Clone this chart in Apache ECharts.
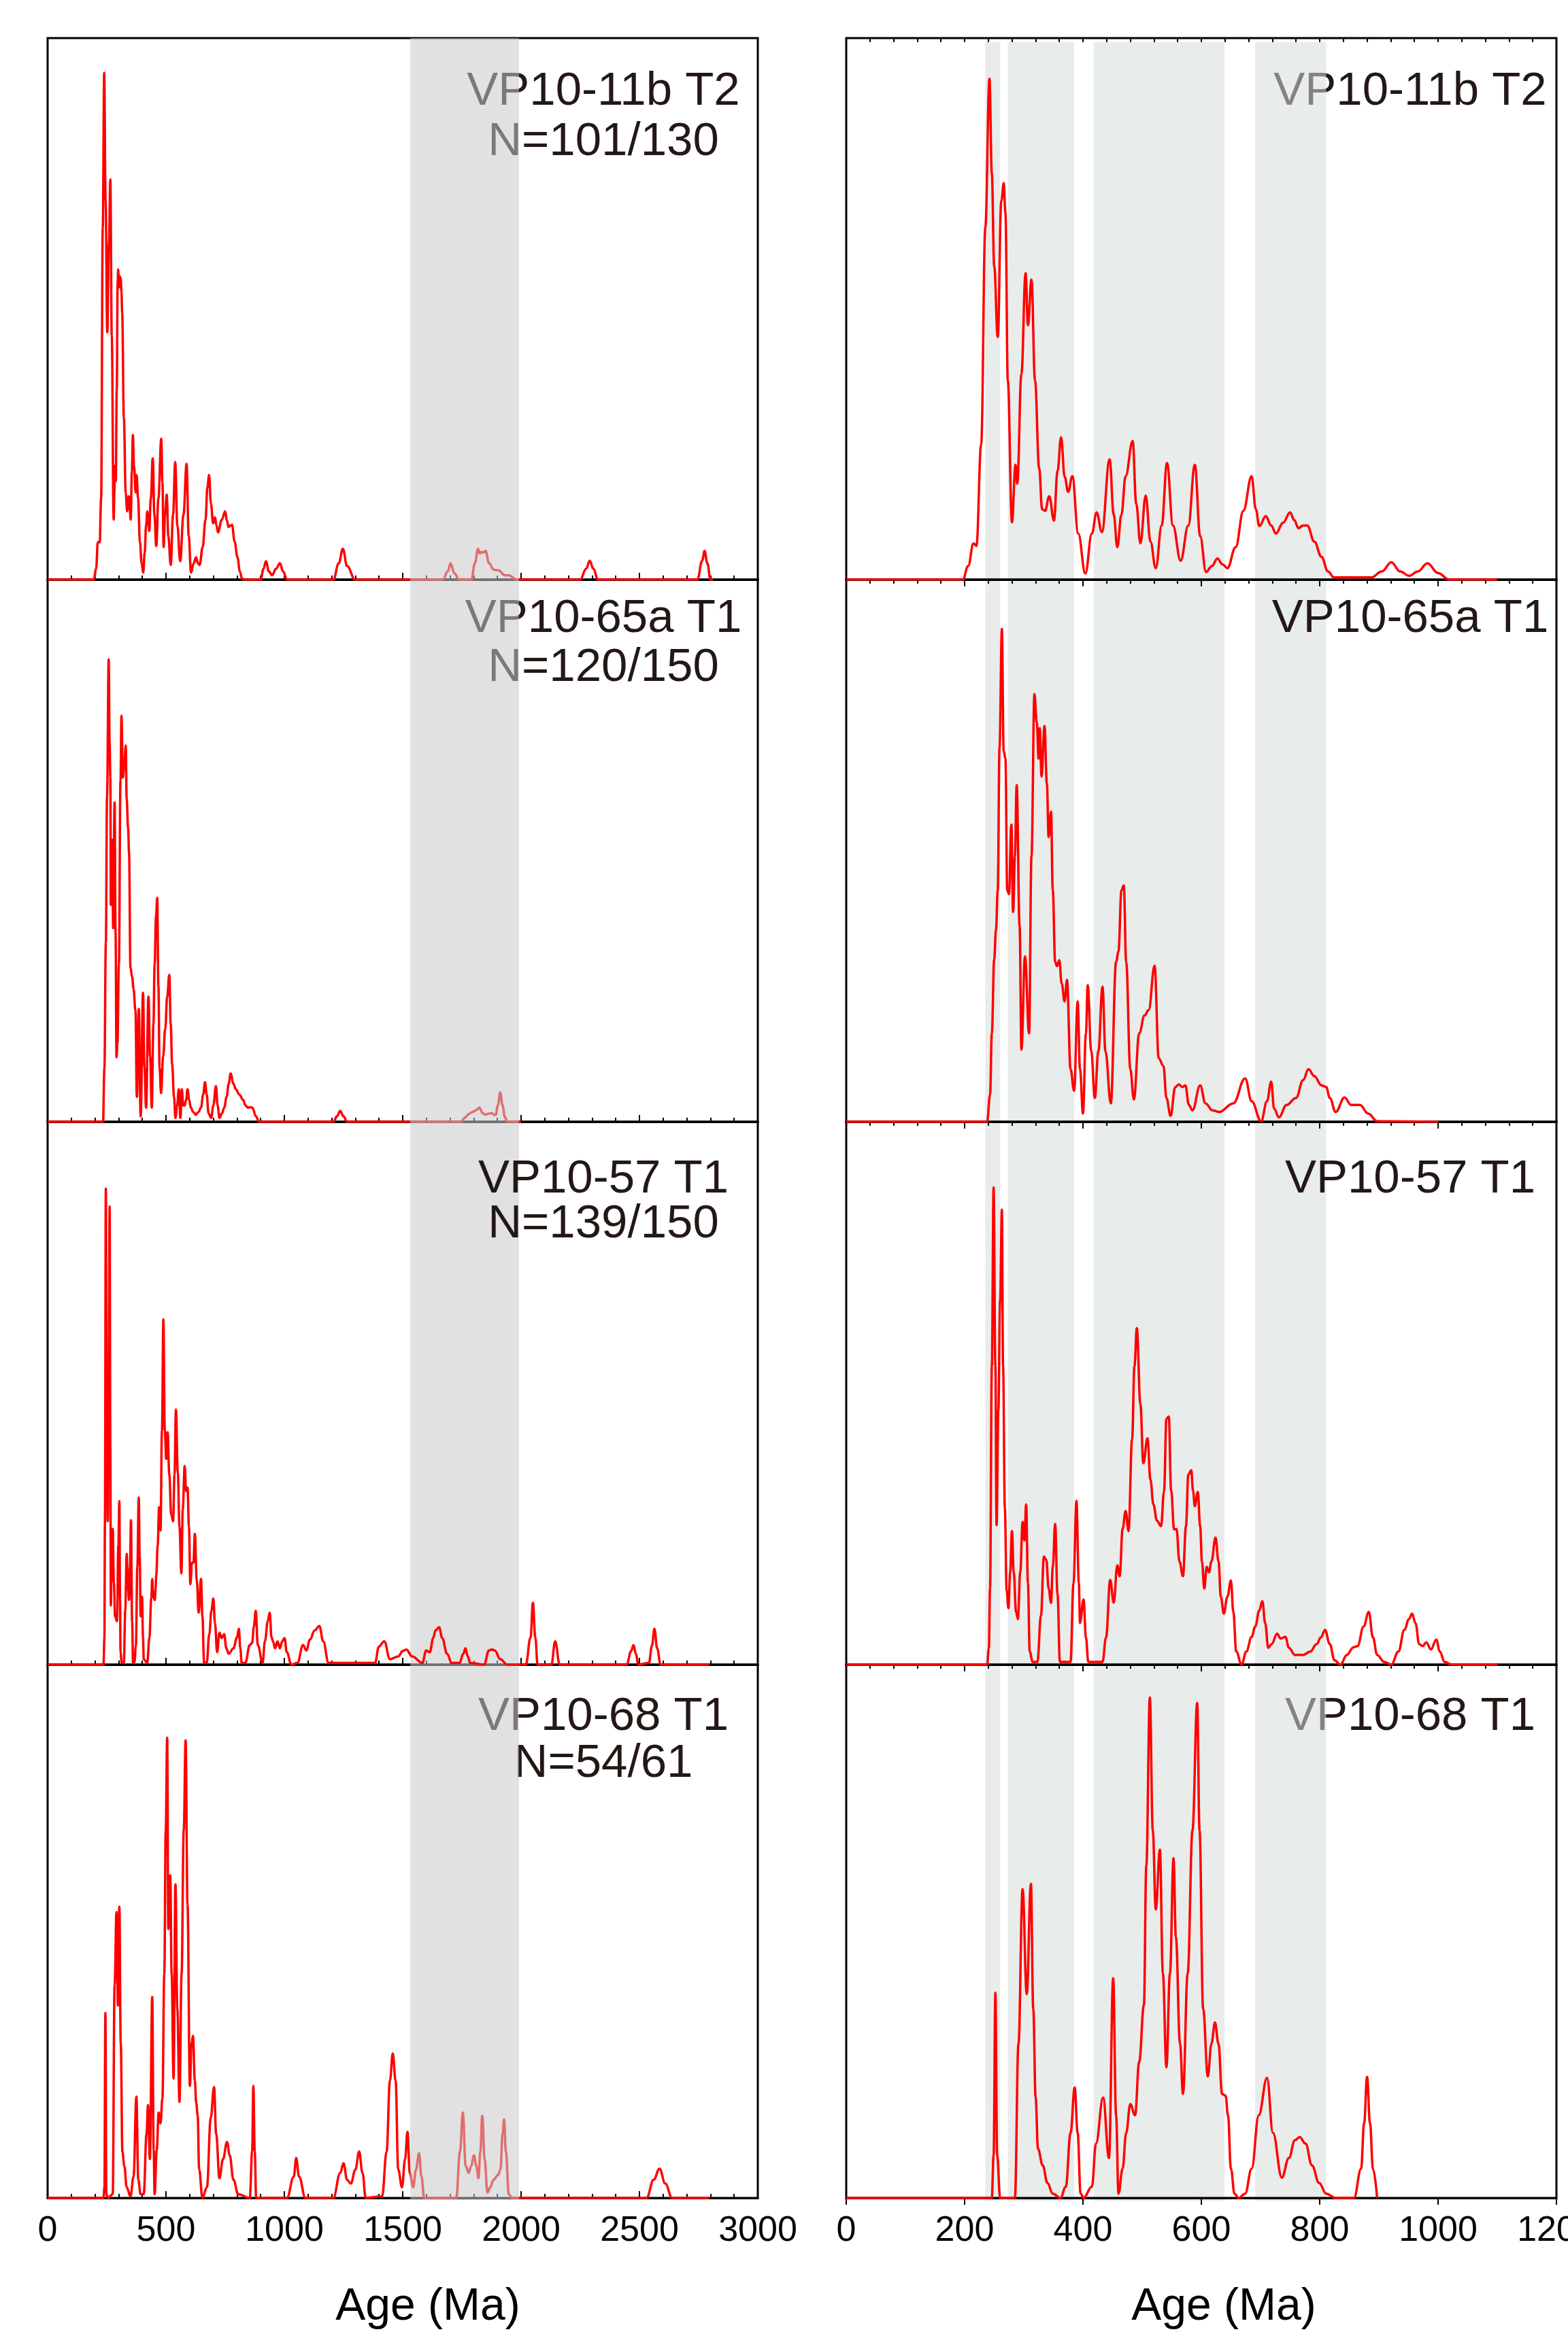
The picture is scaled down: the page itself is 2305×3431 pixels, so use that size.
<!DOCTYPE html>
<html><head><meta charset="utf-8">
<script src="https://cdn.jsdelivr.net/npm/echarts@6/dist/echarts.min.js"></script>
<style>html,body{margin:0;padding:0;background:#fff}#c{width:2305px;height:3431px}</style>
</head><body><div id="c"></div>
<script>
// ---------- data ----------
const leftTicks = [0, 500, 1000, 1500, 2000, 2500, 3000];
const rightTicks = [0, 200, 400, 600, 800, 1000, 1200];
const sampleNames = ['VP10-11b T2', 'VP10-65a T1', 'VP10-57 T1', 'VP10-68 T1'];
const sampleCounts = ['N=101/130', 'N=120/150', 'N=139/150', 'N=54/61'];
const leftBands = [[1532, 1991]];
const rightBands = [[235, 260], [273, 385], [418, 639], [691, 811]];

const kdeL1 = [[0,0],[195,0],[205,2],[212,6.9],[220,6.9],[226,15],[233,65],[239,93.6],[245,70],[252,45.7],[259,62],[265,73.9],[271,45],[279,11.1],[282,16],[284,21],[286,19],[288,18.2],[292,35],[296,55],[298,57.3],[302,54],[305,56],[309,55.6],[312,53],[315,49.2],[322,30],[330,16],[336,12.6],[340,14],[343,15.4],[347,13],[351,11.1],[356,20],[360,26.7],[365,21],[372,16.1],[376,19.3],[382,15],[390,7],[397,3],[404,1.3],[410,5],[416,10],[421,12.6],[425,10.5],[429,9],[436,15],[444,22.4],[451,12],[459,6.2],[468,15],[480,26],[485,18],[490,6],[496,12],[503,15.7],[510,8],[520,2.7],[530,12],[539,21.7],[548,10],[560,3.4],[574,12],[587,21.4],[596,8],[606,1.3],[617,3],[627,4.1],[635,3],[642,2.7],[655,6],[667,11.1],[675,17],[682,19.3],[690,14],[699,10.4],[707,11.5],[713,10],[720,8.7],[735,11],[750,12.6],[757,11],[764,9.7],[772,10],[779,10.1],[790,7],[802,4.1],[812,1.5],[821,0.2],[830,0],[900,0],[912,2],[922,3.4],[935,1.5],[948,0.8],[965,2],[981,3],[995,1.5],[1011,0],[1207,0],[1230,3],[1247,5.7],[1265,2.5],[1299,0],[1670,0],[1690,1.5],[1702,3],[1718,1.2],[1738,0],[1790,0],[1805,3],[1818,5.7],[1826,4.8],[1833,5.1],[1842,5],[1850,5.3],[1865,3],[1885,1.8],[1906,1.7],[1930,0.8],[1949,0.8],[1980,0],[2250,0],[2275,2],[2290,3.5],[2305,2],[2325,0],[2745,0],[2765,3.5],[2775,5.3],[2787,3],[2800,0],[2810,0]];

const kdeL2 = [[0,0],[234,0],[240,10],[246,33],[251,60],[258,85.3],[262,70],[265,63.5],[267,40],[270,45],[273,52],[277,35.7],[283,58.9],[287,35],[291,11.9],[295,14.5],[301,29],[308,63],[312,74.9],[318,63.5],[324,66],[330,69.4],[334,59.5],[340,54.2],[344,49.6],[350,28.4],[357,26.8],[363,24.5],[371,20.5],[377,4.6],[385,20.8],[393,1],[403,23.8],[409,10],[416,2.6],[426,23.1],[433,12],[440,2.6],[447,18],[452,29],[458,38],[463,41.3],[468,25],[473,10],[479,5.3],[488,12],[497,17.2],[505,23],[514,27.1],[520,18],[526,10.6],[534,4.6],[540,0.7],[547,3],[554,6],[561,0.7],[567,6],[573,3],[579,3],[585,4],[591,6],[598,4],[605,2.6],[615,1.8],[626,1.3],[637,1.8],[648,2.6],[657,5],[665,7.3],[672,5],[680,1.5],[691,0.7],[700,3],[711,6.6],[718,3],[726,0.7],[736,1.5],[746,2.6],[756,4.6],[765,7],[773,8.9],[785,7],[795,6],[810,5],[826,4],[836,3],[846,2.6],[856,2.7],[865,2.6],[880,1],[893,0],[1207,0],[1222,1],[1236,2],[1250,1],[1265,0],[1746,0],[1765,0.8],[1775,1.3],[1790,1.7],[1799,1.9],[1812,2.2],[1824,2.6],[1837,1.6],[1850,1.3],[1863,1.5],[1877,1.6],[1885,1.3],[1893,1.3],[1902,3],[1912,5.4],[1922,3],[1932,0.8],[1942,0],[2000,0]];

const kdeL3 = [[0,0],[236,0],[240,5],[242,26],[246,87.7],[250,40],[254,26.4],[258,55],[262,84.4],[265,40],[267,10.9],[271,20],[275,25],[280,15],[285,8.9],[293,8],[299,22],[303,30.1],[306,12],[308,2.3],[313,0.3],[322,0.3],[328,10],[334,20.4],[339,15],[344,11.9],[348,18],[352,26.6],[357,8],[361,0.3],[367,0.5],[373,3.6],[379,18],[385,30.8],[389,20],[393,8.9],[396,10],[399,12.5],[403,5],[406,1],[421,0.3],[430,5],[438,12.2],[442,15.8],[446,12.5],[453,11.9],[456,14],[459,16.5],[465,22],[471,29],[477,24.7],[483,43],[489,63.6],[495,43.2],[501,37.9],[507,42.8],[514,35],[522,27.7],[530,26.4],[536,35],[542,47],[550,35.3],[557,25.4],[565,16.8],[571,28.7],[579,36.6],[585,32],[591,32.6],[597,25.4],[603,14.8],[610,18.8],[616,18.8],[622,24.1],[630,15.5],[638,9.6],[648,15.8],[654,8.9],[661,0.3],[672,0.3],[683,5.6],[692,10],[700,12.2],[707,7.6],[716,2.3],[726,5.9],[735,4.9],[746,5.6],[755,3],[765,2],[785,3],[800,5],[808,6.6],[814,3],[820,0.3],[835,0.3],[854,3.6],[864,4],[871,7],[879,9.9],[888,3.6],[908,0.3],[918,4.3],[930,8],[938,9.6],[946,5],[952,4.3],[961,3],[971,4.3],[981,3],[991,4.3],[1001,4.9],[1010,2.3],[1030,0],[1055,0.3],[1079,3.6],[1093,2.6],[1108,4.6],[1128,6.3],[1148,7.1],[1164,4.3],[1187,0.3],[1383,0.3],[1399,3.3],[1422,4.3],[1446,1],[1481,1.5],[1500,2.5],[1515,2.8],[1540,1.5],[1583,0.3],[1599,2.6],[1614,2.3],[1630,5],[1638,6.3],[1654,6.9],[1667,4.9],[1687,2],[1707,0.3],[1740,0.3],[1756,2],[1765,3],[1775,1.5],[1785,0.3],[1844,0],[1864,2.6],[1877,2.8],[1889,2.6],[1912,1],[1942,0],[2020,0],[2040,5],[2050,11.4],[2060,5],[2070,0],[2128,0],[2144,4.3],[2163,0],[2446,0],[2465,2.5],[2475,3.6],[2485,2],[2495,0],[2540,0.3],[2553,3.5],[2563,6.6],[2575,3],[2589,0],[2795,0]];

const kdeL4 = [[0,0],[236,0],[240,2],[244,34.7],[248,0.7],[255,0],[275,0.7],[283,40],[291,53.6],[297,36.1],[303,54.6],[309,29],[316,8.7],[324,6],[334,2],[350,0.3],[363,4],[375,19],[383,3.4],[393,0.7],[406,0.7],[418,12],[424,17.4],[432,7.3],[442,37.7],[448,9],[452,0.7],[461,9],[469,16],[477,14],[485,18.7],[493,42.1],[499,69],[505,86.3],[510,50.4],[518,60.5],[524,42],[532,22.4],[540,58.8],[548,35.4],[557,18],[566,42],[575,69],[583,85.8],[591,55],[601,21],[608,29],[614,30.4],[622,22],[628,17.7],[634,15.4],[640,5.4],[654,0],[673,2],[689,15],[703,20.8],[712,12],[726,3.7],[741,7.3],[758,10.5],[769,8],[785,3.4],[805,0.7],[854,0],[864,8.7],[869,21],[875,8.7],[881,0],[1011,0],[1040,4],[1050,7.5],[1062,4],[1089,0],[1207,0],[1236,4.7],[1250,6.5],[1265,3.4],[1281,2.7],[1300,5.3],[1316,8.7],[1330,4.7],[1344,0],[1413,0.3],[1432,8.7],[1446,22],[1458,27.1],[1470,22],[1481,5.3],[1497,2],[1510,7.3],[1520,12.4],[1530,4.7],[1544,2],[1556,5.3],[1569,8.4],[1579,4],[1591,0],[1726,0],[1742,8.7],[1754,16],[1766,6],[1779,4.7],[1789,6],[1801,8],[1811,6],[1820,3.7],[1828,8.7],[1836,15.4],[1846,7.3],[1858,1],[1870,2],[1883,3.4],[1903,4.3],[1913,5.4],[1922,12],[1928,14.7],[1936,8.7],[1948,0.7],[1962,0],[2530,0],[2560,3.4],[2585,5.5],[2609,2.7],[2638,0],[2795,0]];

const kdeR1 = [[0,0],[197,0],[206,2.5],[215,6.7],[220,6.2],[228,25],[235,65],[242,92.5],[246,75],[250,57.9],[256,44.8],[262,69.9],[266,73.2],[269,67.8],[273,36.7],[280,10.6],[286,21.2],[289,17.7],[296,38],[303,56.6],[307,47],[313,55.4],[319,36.7],[326,20.5],[331,13],[336,12.7],[343,15.4],[351,10.9],[357,20],[363,26.3],[369,19],[375,16.2],[382,19.1],[392,8.5],[404,1.1],[415,8.5],[423,12.4],[432,8.8],[445,22.2],[452,12],[458,6],[465,12],[472,19.1],[484,25.6],[490,14],[497,6.7],[506,15.5],[514,7],[523,2.1],[533,10],[542,21.5],[552,10],[565,3.5],[578,10],[589,21.2],[598,8],[608,1.4],[618,2.5],[627,3.9],[636,2.8],[644,2.1],[658,6],[671,12.7],[685,19.1],[692,13],[698,9.9],[709,11.7],[718,10],[726,8.5],[738,10.5],[750,12.4],[757,11],[764,9.5],[772,10],[779,10],[791,7],[803,4.2],[814,1.5],[824,0.4],[887,0.4],[905,1.5],[921,3.2],[936,1.5],[951,0.7],[966,1.5],[982,3],[1000,1.2],[1019,0],[1100,0]];

const kdeR2 = [[0,0],[238,0],[243,5],[246,16.3],[250,30],[253,35.4],[256,42.7],[259,69],[263,90.9],[266,68.4],[269,67],[272,42.7],[275,42],[279,54.8],[282,38.7],[285,49],[288,62.1],[293,36],[296,13.3],[302,30.5],[309,16.3],[313,49],[318,78.9],[322,73.6],[325,67],[327,72.6],[330,63.7],[335,73],[339,62.4],[342,52.5],[346,57.2],[349,42.7],[353,29.5],[356,28.7],[360,29.8],[364,25.5],[369,22.2],[373,26.2],[379,9.7],[385,5.7],[391,22.2],[395,9.7],[400,1.5],[405,16.3],[408,25.2],[414,13],[420,4.4],[426,13],[433,24.9],[438,13],[447,3.4],[456,29.5],[460,31.4],[465,42.7],[469,43.6],[473,29.5],[480,9.7],[486,4.1],[495,16.3],[504,19.6],[511,20.6],[521,28.8],[528,11.7],[536,10.3],[541,4.4],[548,1.1],[556,6.4],[562,6.9],[568,6.4],[573,6.7],[579,3.1],[585,2.1],[598,6.7],[607,3.4],[619,2.1],[630,1.8],[654,3.4],[674,8],[685,3.8],[701,0.1],[711,3.8],[718,7.4],[723,2.4],[731,0.8],[744,3.1],[760,4.4],[772,7.7],[781,9.7],[791,8.4],[803,6.7],[811,6.4],[817,4.4],[827,1.8],[842,4.5],[853,3.1],[868,3.1],[882,1.5],[897,0.1],[1000,0]];

const kdeR3 = [[0,0],[238,0],[241,3],[243,14],[246,55],[249,87.9],[252,55],[254,25.7],[257,47],[260,67],[263,83.8],[265,55],[268,28.8],[271,13.7],[274,10.4],[277,17],[280,24.6],[283,17],[287,9.7],[290,8.4],[294,17],[298,26.3],[301,22.9],[304,29.5],[307,15],[310,2.4],[315,0.5],[323,0.5],[329,9],[334,19.9],[338,19.3],[342,14],[346,11.4],[349,18],[353,25.9],[357,13],[361,0.5],[379,0.5],[384,15],[389,30.2],[393,15],[395,7.7],[401,12],[405,5],[409,0.5],[433,0.5],[439,5],[446,15.6],[452,11.4],[458,18.3],[462,16.3],[467,25],[472,28.3],[477,24.6],[483,41.5],[487,55],[491,62],[497,48],[502,37.1],[509,41.7],[514,34.1],[519,29.5],[525,26.5],[532,25.5],[537,32],[541,45.3],[545,45.7],[549,32],[554,24.9],[558,25],[563,19],[569,16.3],[574,25.5],[578,35],[583,35.8],[586,32],[589,29.2],[594,31.8],[598,25.5],[601,19],[605,14],[609,18],[613,17],[617,19],[624,23.4],[629,19],[633,12.5],[638,9.4],[644,12.5],[650,15.5],[654,9.7],[659,2.4],[668,0],[676,2.4],[685,5.1],[691,7],[698,10],[703,11.7],[708,7.6],[713,3.1],[719,3.8],[728,5.7],[734,4.8],[742,5.1],[748,3.1],[758,1.8],[772,1.8],[784,2.4],[795,3.8],[802,5],[809,6.4],[817,3.8],[825,0.8],[835,0],[846,1.8],[857,3.2],[864,3.4],[874,7],[883,9.7],[890,5],[897,1.8],[909,0.5],[921,0],[933,2.4],[943,6.4],[951,8.4],[956,9.4],[962,7.6],[968,3.8],[974,3.4],[980,4.1],[988,2.8],[997,4.6],[1003,2.4],[1011,0.5],[1023,0],[1101,0]];

const kdeR4 = [[0,0],[246,0],[249,8],[252,38.5],[255,8],[260,0],[285,0],[291,28.9],[298,57.9],[305,38.2],[312,58.9],[316,35.5],[320,18.8],[324,9.2],[332,6.1],[340,2.8],[349,0.8],[362,0],[371,2.1],[379,12.2],[386,20.7],[391,12.2],[396,0.8],[401,0],[415,2.1],[422,10.2],[434,18.8],[444,7.5],[451,41.2],[456,15.5],[460,0.8],[467,5.5],[473,12.2],[480,17.6],[488,15.5],[495,25.5],[503,36.2],[507,62.3],[513,93.8],[518,68.9],[523,54.1],[530,65.3],[535,42.2],[541,24.5],[547,42.2],[553,63.7],[557,48.9],[564,28.9],[569,19.5],[577,42.2],[585,68.9],[593,92.8],[597,68.9],[603,35.5],[611,22.8],[617,28.9],[623,32.9],[629,28.9],[635,19.5],[641,19.2],[645,15.5],[650,5.5],[656,0.8],[663,0],[674,0.8],[685,5.5],[697,15.5],[711,22.5],[721,12.2],[736,3.8],[748,7.5],[758,10.8],[766,11.4],[776,10.2],[787,6.1],[799,2.8],[811,0.8],[827,0],[858,0],[870,5.5],[875,14],[880,22.7],[885,14],[890,5.5],[897,0]];

const leftCurves = [kdeL1, kdeL2, kdeL3, kdeL4];
const rightCurves = [kdeR1, kdeR2, kdeR3, kdeR4];
// whether the grey band is drawn over the sample text / curve (per row)
const leftTextUnder = [true, true, false, true];
const rightTextUnder = [true, false, false, true];
const leftLineUnder = [true, true, false, true];

// ---------- layout ----------
const FONT = '"Liberation Sans", Arial, sans-serif';
const colL = {left: 70, width: 1044};
const colR = {left: 1244, width: 1044};
const rows = [{top: 56, height: 796}, {top: 852, height: 797}, {top: 1649, height: 798}, {top: 2447, height: 784}];
const nameBase = [159, 934, 1758, 2548];
const countBase = [233, 1006, 1824, 2617];
const textColor = '#231815';

const grids = [], xAxes = [], yAxes = [], series = [], texts = [];
const lStep = leftTicks[1] - leftTicks[0];
const rStep = rightTicks[1] - rightTicks[0];
const plain = v => String(v);

for (let r = 0; r < 4; r++) {
  grids.push({left: colL.left, width: colL.width, top: rows[r].top, height: rows[r].height,
    show: true, borderColor: '#000', borderWidth: 3, z: 0, containLabel: false, outerBoundsMode: 'none'});
  grids.push({left: colR.left, width: colR.width, top: rows[r].top, height: rows[r].height,
    show: true, borderColor: '#000', borderWidth: 3, z: 3, containLabel: false, outerBoundsMode: 'none'});
}
for (let r = 0; r < 4; r++) {
  const last = r === 3;
  const gl = 2 * r, gr = 2 * r + 1;
  xAxes.push({type: 'value', gridIndex: gl, min: leftTicks[0], max: leftTicks[leftTicks.length - 1], interval: lStep,
    z: 0,
    axisLine: {show: true, lineStyle: {color: '#000', width: 3}},
    axisTick: {show: true, inside: true, length: 10, lineStyle: {color: '#000', width: 2}},
    minorTick: {show: true, splitNumber: 5, length: 6, lineStyle: {color: '#000', width: 2}},
    splitLine: {show: false}, minorSplitLine: {show: false},
    axisLabel: {show: last, fontSize: 52, color: '#000', fontFamily: FONT, margin: 23, formatter: plain}});
  xAxes.push({type: 'value', gridIndex: gr, min: rightTicks[0], max: rightTicks[rightTicks.length - 1], interval: rStep,
    z: 3,
    axisLine: {show: true, lineStyle: {color: '#000', width: 3}},
    axisTick: {show: true, inside: false, length: 10, lineStyle: {color: '#000', width: 2}},
    splitLine: {show: false},
    axisLabel: {show: last, fontSize: 52, color: '#000', fontFamily: FONT, margin: 23, formatter: plain}});
  yAxes.push({type: 'value', gridIndex: gl, min: 0, max: 100, show: false});
  yAxes.push({type: 'value', gridIndex: gr, min: 0, max: 100, show: false});
}
for (let r = 0; r < 4; r++) {
  xAxes.push({type: 'value', gridIndex: 2 * r + 1, min: rightTicks[0], max: rightTicks[rightTicks.length - 1], interval: rStep / 5,
    z: 3, axisLine: {show: false}, splitLine: {show: false}, axisLabel: {show: false},
    axisTick: {show: true, inside: true, length: 6, lineStyle: {color: '#000', width: 2}}});
}
grids.push({left: colL.left, width: colL.width, top: 56, height: 3178, show: false, containLabel: false, outerBoundsMode: 'none'});
grids.push({left: colR.left, width: colR.width, top: 62, height: 3174, show: false, containLabel: false, outerBoundsMode: 'none'});
xAxes.push({type: 'value', gridIndex: 8, min: leftTicks[0], max: leftTicks[leftTicks.length - 1], show: false});
xAxes.push({type: 'value', gridIndex: 9, min: rightTicks[0], max: rightTicks[rightTicks.length - 1], show: false});
yAxes.push({type: 'value', gridIndex: 8, min: 0, max: 100, show: false});
yAxes.push({type: 'value', gridIndex: 9, min: 0, max: 100, show: false});

function bandRender(color) {
  return function (params, api) {
    const p0 = api.coord([api.value(0), 0]);
    const p1 = api.coord([api.value(1), 100]);
    return {type: 'rect', shape: {x: p0[0], y: p1[1], width: p1[0] - p0[0], height: p0[1] - p1[1]},
      style: {fill: color}};
  };
}
series.push({type: 'custom', name: 'bandL', xAxisIndex: 12, yAxisIndex: 8, z: 5, silent: true,
  encode: {x: [0, 1]}, data: leftBands, renderItem: bandRender('rgba(200,200,200,0.55)'), clip: false});
series.push({type: 'custom', name: 'bandR', xAxisIndex: 13, yAxisIndex: 9, z: 2, silent: true,
  encode: {x: [0, 1]}, data: rightBands, renderItem: bandRender('rgba(214,220,219,0.55)'), clip: false});

for (let r = 0; r < 4; r++) {
  series.push({type: 'line', xAxisIndex: 2 * r, yAxisIndex: 2 * r, data: leftCurves[r],
    showSymbol: false, smooth: 0.4, smoothMonotone: 'x', clip: true,
    z: leftLineUnder[r] ? 2 : 6,
    lineStyle: {color: '#ff0000', width: 3.5}});
  series.push({type: 'line', xAxisIndex: 2 * r + 1, yAxisIndex: 2 * r + 1, data: rightCurves[r],
    showSymbol: false, smooth: 0.4, smoothMonotone: 'x', clip: true, z: 4,
    lineStyle: {color: '#ff0000', width: 3.5}});

  const zl = leftTextUnder[r] ? 1 : 10;
  const zr = rightTextUnder[r] ? 1 : 10;
  texts.push({type: 'text', x: 887, y: nameBase[r] - 24, z: zl,
    style: {text: sampleNames[r], fontSize: 69, fontFamily: FONT, fill: textColor, align: 'center', verticalAlign: 'middle'}});
  texts.push({type: 'text', x: 887, y: countBase[r] - 24, z: zl,
    style: {text: sampleCounts[r], fontSize: 69, fontFamily: FONT, fill: textColor, align: 'center', verticalAlign: 'middle'}});
  texts.push({type: 'text', x: 2073, y: nameBase[r] - 24, z: zr,
    style: {text: sampleNames[r], fontSize: 69, fontFamily: FONT, fill: textColor, align: 'center', verticalAlign: 'middle'}});
}
texts.push({type: 'text', x: 629, y: 3392, z: 10,
  style: {text: 'Age (Ma)', fontSize: 66, fontFamily: FONT, fill: '#000', align: 'center', verticalAlign: 'middle'}});
texts.push({type: 'text', x: 1799, y: 3392, z: 10,
  style: {text: 'Age (Ma)', fontSize: 66, fontFamily: FONT, fill: '#000', align: 'center', verticalAlign: 'middle'}});

const chart = echarts.init(document.getElementById('c'), null, {renderer: 'canvas'});
chart.setOption({
  backgroundColor: '#ffffff',
  animation: false,
  grid: grids,
  xAxis: xAxes,
  yAxis: yAxes,
  series: series,
  graphic: {elements: texts}
});
</script></body></html>
